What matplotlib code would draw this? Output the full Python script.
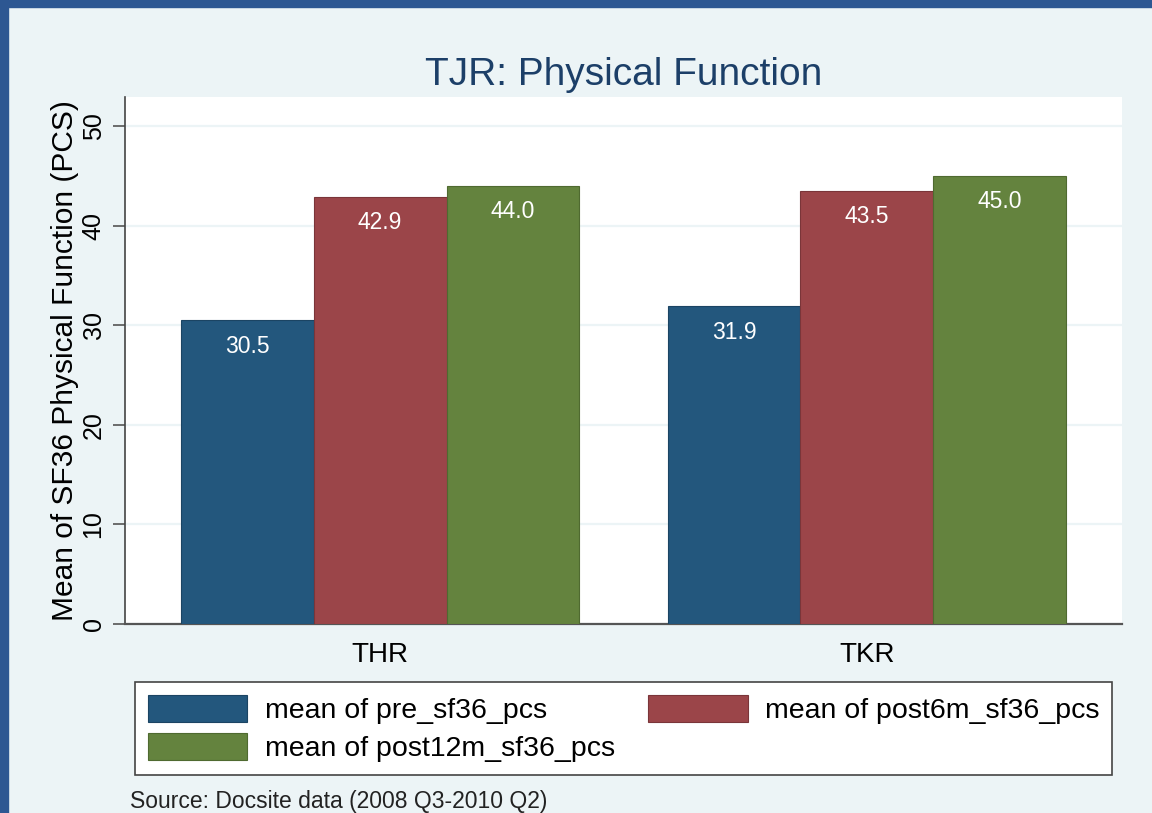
import matplotlib
matplotlib.use('Agg')
import matplotlib.pyplot as plt
import matplotlib.patches as mpatches
import numpy as np

plt.rcParams['font.family'] = ['Liberation Sans', 'DejaVu Sans']

# data
groups = ['THR', 'TKR']
series = ['mean of pre_sf36_pcs', 'mean of post6m_sf36_pcs', 'mean of post12m_sf36_pcs']
pre_pcs = [30.5, 31.9]
post6m_pcs = [42.9, 43.5]
post12m_pcs = [44.0, 45.0]
yticks = [0, 10, 20, 30, 40, 50]

colors = ['#23577D', '#9B4549', '#64833E']
edges = ['#1B4463', '#7A3539', '#4F6A30']
bg = '#ECF4F6'

fig = plt.figure(figsize=(11.52, 8.13), dpi=100, facecolor=bg)

# slide frame on left and top
fig.patches.append(mpatches.Rectangle((0, 0), 0.007, 1, transform=fig.transFigure,
                                      color='#2D5792', zorder=0))
fig.patches.append(mpatches.Rectangle((0, 0.992), 1, 0.008, transform=fig.transFigure,
                                      color='#2D5792', zorder=0))

ax = fig.add_axes([0.1085, 0.2325, 0.8655, 0.648])
ax.set_facecolor('white')

x = np.arange(len(groups))
w = 0.273
vals = [pre_pcs, post6m_pcs, post12m_pcs]
bars = []
for i, v in enumerate(vals):
    b = ax.bar(x + (i - 1) * w, v, width=w, color=colors[i], edgecolor=edges[i],
               linewidth=0.8, zorder=3, label=series[i])
    bars.append(b)
    for rect, val in zip(b, v):
        ax.annotate(f'{val:.1f}', (rect.get_x() + rect.get_width() / 2, val),
                    xytext=(0, -26), textcoords='offset pixels',
                    ha='center', va='center', color='white', fontsize=16.5, zorder=4)

ax.set_xlim(-0.524, 1.524)
ax.set_ylim(0, 52.9)
ax.set_yticks(yticks)
ax.set_yticklabels([str(t) for t in yticks], rotation=90, va='center', fontsize=18)
ax.set_xticks(x)
ax.set_xticklabels(groups, fontsize=20)
ax.tick_params(axis='x', length=0, pad=13)
ax.tick_params(axis='y', length=9, width=1.2, color='#555555', pad=5, direction='out')
ax.yaxis.grid(True, color=bg, linewidth=1.6, zorder=1)
ax.set_axisbelow(True)

for s in ['top', 'right']:
    ax.spines[s].set_visible(False)
ax.spines['left'].set_color('#444444')
ax.spines['bottom'].set_color('#555555')
ax.spines['left'].set_linewidth(1.2)
ax.spines['bottom'].set_linewidth(1.6)

ax.set_ylabel('Mean of SF36 Physical Function (PCS)', fontsize=21.5, labelpad=2)
ax.set_title('TJR: Physical Function', fontsize=28, color='#1C3F68', pad=9)

handles = [bars[0], bars[2], bars[1]]
labels = [series[0], series[2], series[1]]
leg = fig.legend(handles, labels, ncol=2, mode='expand',
                 bbox_to_anchor=(135 / 1152, 1 - 775 / 813, 977 / 1152, 95 / 813),
                 loc='lower left', fontsize=20.5, frameon=True, fancybox=False,
                 edgecolor='#444444', facecolor='white', framealpha=1,
                 handlelength=3.5, handleheight=1.1, handletextpad=0.6,
                 labelspacing=0.3, borderpad=0.45, borderaxespad=0)
leg.get_frame().set_linewidth(1.2)

fig.text(130 / 1152, 1 - 801 / 813, 'Source: Docsite data (2008 Q3-2010 Q2)',
         fontsize=16.5, va='center', ha='left', color='#222222')

fig.savefig('out.png', dpi=100, facecolor=fig.get_facecolor())
